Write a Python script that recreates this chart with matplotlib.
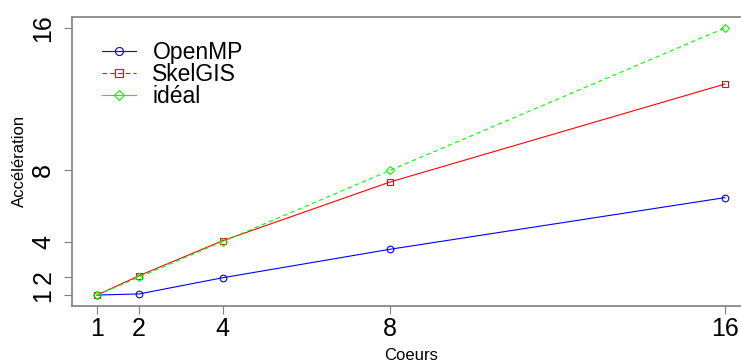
import matplotlib
matplotlib.use("Agg")
import matplotlib.pyplot as plt
from matplotlib.lines import Line2D

plt.rcParams["font.family"] = ["Liberation Sans", "DejaVu Sans"]

coeurs = [1, 2, 4, 8, 16]
openmp = [1.0, 1.06, 1.97, 3.57, 6.47]
skelgis = [1.0, 2.08, 4.05, 7.35, 12.85]
ideal = [1, 2, 4, 8, 16]
ticks = [1, 2, 4, 8, 16]

BLUE = "#0000ff"
RED = "#ff0000"
GREEN = "#00ff00"
AXIS_GREY = "#7f7f7f"


def main():
    fig = plt.figure(figsize=(7.41, 3.64), dpi=100)
    # right edge of the plot region runs past the figure border (cropped in the reference)
    ax = fig.add_axes([72 / 741, 58.3 / 364, 678 / 741, 288.4 / 364])

    ax.plot(coeurs, openmp, "-", color=BLUE, lw=0.8, marker="o", ms=4.8,
            mfc="none", mec=BLUE, mew=0.8)
    ax.plot(coeurs, skelgis, "-", color=RED, lw=0.8, marker="s", ms=4,
            mfc="none", mec=RED, mew=0.8)
    ax.plot(coeurs, ideal, color=GREEN, lw=0.8, ls=(0, (4, 3)), marker="D", ms=4.2,
            mfc="none", mec=GREEN, mew=0.8)

    ax.set_xlim(0.4, 16.6)
    ax.set_ylim(0.4, 16.6)
    ax.set_xticks(ticks)
    ax.set_yticks(ticks)
    ax.set_xticklabels([str(t) for t in ticks], fontsize=18)
    ax.set_yticklabels([str(t) for t in ticks], fontsize=18, rotation=90, va="center")
    ax.tick_params(axis="x", length=6, width=0.8, color=AXIS_GREY, pad=2)
    ax.tick_params(axis="y", length=6, width=0.8, color=AXIS_GREY, pad=6)

    for side in ["left", "top", "bottom"]:
        ax.spines[side].set_color(AXIS_GREY)
        ax.spines[side].set_linewidth(1.2)
    ax.spines["right"].set_visible(False)

    fig.text(411 / 741, 1 - 356 / 364, "Coeurs", ha="center", va="center", fontsize=12)
    fig.text(19 / 741, 1 - 161 / 364, "Accélération", ha="center", va="center",
             rotation=90, fontsize=12)

    # legend line styles as they appear in the original (red dashed, green solid)
    handles = [
        Line2D([], [], color=BLUE, lw=0.8, marker="o", ms=5.8, mfc="none", mec=BLUE, mew=0.8),
        Line2D([], [], color=RED, lw=0.8, ls=(0, (4, 3)), marker="s", ms=5.5, mfc="none",
               mec=RED, mew=0.8),
        Line2D([], [], color=GREEN, lw=0.8, marker="D", ms=5.5, mfc="none", mec=GREEN, mew=0.8),
    ]
    fig.legend(handles, ["OpenMP", "SkelGIS", "idéal"], loc="upper left",
               bbox_to_anchor=(102 / 741, 1 - 41 / 364), frameon=False, fontsize=16.5,
               handlelength=1.5, handletextpad=0.7, labelspacing=-0.05,
               borderpad=0, borderaxespad=0)

    fig.savefig("out.png", dpi=100)


if __name__ == "__main__":
    main()
